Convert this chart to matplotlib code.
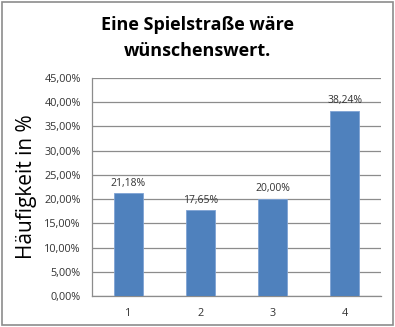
import matplotlib
matplotlib.use('Agg')
import matplotlib.pyplot as plt
from matplotlib.ticker import FuncFormatter

categories = ['1', '2', '3', '4']
shares = [21.18, 17.65, 20.00, 38.24]
title = 'Eine Spielstraße wäre\nwünschenswert.'
ylabel = 'Häufigkeit in %'

plt.rcParams['font.family'] = ['Open Sans', 'DejaVu Sans']

fig = plt.figure(figsize=(3.95, 3.27), dpi=100)
ax = fig.add_axes([92 / 395, 1 - 296 / 327, 289 / 395, 218 / 327])

# outer frame of the chart
fig.patches.append(plt.Rectangle((0.006, 0.006), 0.988, 0.988, transform=fig.transFigure,
                                 fill=False, edgecolor='#8c8c8c', lw=1.2))

x = range(len(categories))
ax.bar(x, shares, width=0.4, color='#4f81bd', edgecolor='#7fa3d4', lw=0.6, zorder=3)
for xi, v in zip(x, shares):
    ax.text(xi, v + 1.0, f'{v:.2f}%'.replace('.', ','), ha='center', va='bottom',
            fontsize=7.5, color='#333333')

ax.set_xlim(-0.5, 3.5)
ax.set_ylim(0, 45)
ax.set_yticks(range(0, 46, 5))
ax.yaxis.set_major_formatter(FuncFormatter(lambda v, p: f'{v:.2f}%'.replace('.', ',')))
ax.set_xticks(list(x))
ax.set_xticklabels(categories)
ax.tick_params(axis='both', labelsize=7.8, colors='#333333', length=0)
ax.tick_params(axis='x', pad=9)
ax.tick_params(axis='y', pad=8)
ax.grid(axis='y', color='#8c8c8c', lw=0.9, zorder=0)
for s in ['top', 'right']:
    ax.spines[s].set_visible(False)
for s in ['left', 'bottom']:
    ax.spines[s].set_color('#8c8c8c')
    ax.spines[s].set_linewidth(0.9)

ax.set_ylabel(ylabel, fontsize=15, labelpad=5)
fig.text(0.5, 1 - 38 / 327, title, ha='center', va='center', fontsize=13,
         fontweight='bold', linespacing=1.55)

fig.savefig('out.png', dpi=100)
